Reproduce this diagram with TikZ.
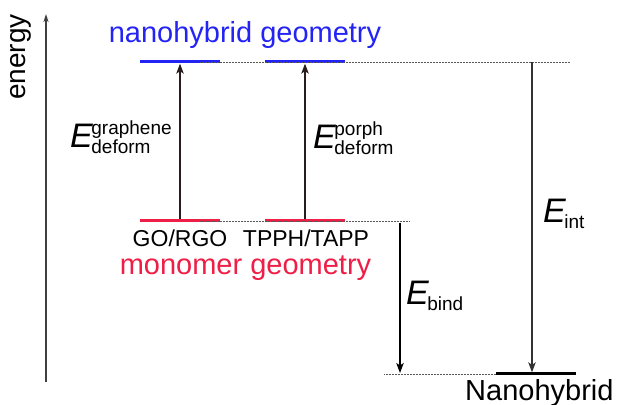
\documentclass[tikz,border=0pt]{standalone}
\usepackage{fontspec}
\setmainfont{Liberation Sans}
\usepackage{tikz}
\usetikzlibrary{positioning, arrows.meta, calc}
\definecolor{hybblue}{RGB}{35, 35, 245}
\definecolor{monored}{RGB}{238, 30, 70}
\definecolor{arrowdark}{RGB}{40, 28, 28}
\newcommand{\Eterm}[2]{{\fontsize{34}{34}\selectfont\itshape E}\kern-1.5pt%
  \fontsize{19}{19}\selectfont\makebox[0pt][l]{\raisebox{13pt}{#1}}\raisebox{-6pt}{#2}}

\begin{document}
\begin{tikzpicture}[
  x=1pt, y=1pt,
  lbl/.style={inner sep=0pt, anchor=base},
  title/.style={lbl, font=\fontsize{29}{29}\selectfont},
  molname/.style={lbl, font=\fontsize{23}{23}\selectfont},
  eterm/.style={inner sep=0pt, anchor=base west},
  bar/.style={inner sep=0pt, minimum width=80pt, minimum height=3pt},
  hybbar/.style={bar, fill=hybblue},
  monobar/.style={bar, fill=monored},
  levelline/.style={densely dotted, gray!70!black, line width=0.5pt},
  uparrow/.style={-{Stealth[length=10pt,width=7.5pt,inset=2.5pt]}, line width=1.1pt, arrowdark},
  axis/.style={-{Stealth[length=8pt,width=5pt,inset=2pt]}, line width=1.3pt, black!75}
]
\useasboundingbox (0,0) rectangle (618,404);

% energy axis
\coordinate (axis-bot) at (46,22);
\coordinate (axis-top) at (46,390);
\draw[axis] (axis-bot) -- (axis-top);
\node[inner sep=0pt, anchor=base west, rotate=90, font=\fontsize{28}{28}\selectfont] (energy) at (25,304) {energy};

% levels
\node[hybbar] (hyb-go) at (180,342) {};
\node[hybbar] (hyb-tp) at (305,342) {};
\node[monobar] (mono-go) at (180,183) {};
\node[monobar] (mono-tp) at (305,183) {};
\node[bar, fill=black] (nano) at (535.5,30) {};

\coordinate (top-start) at (200,342);
\coordinate (top-end) at (570,342);
\coordinate (mid-start) at (200,183);
\coordinate (mid-end) at (410,183);
\coordinate (bot-start) at (384,30);
\draw[levelline] (top-start) -- (top-end);
\draw[levelline] (mid-start) -- (mid-end);
\draw[levelline] (bot-start) -- (nano.west);

% labels
\node[title, text=hybblue] (hyb-title) at (245,361) {nanohybrid geometry};
\node[title, text=monored] (mono-title) at (245.5,129) {monomer geometry};
\node[molname] (go-name) at (180,157) {GO/RGO};
\node[molname] (tp-name) at (306,157) {TPPH/TAPP};
\node[inner sep=0pt, anchor=base west, font=\fontsize{29}{29}\selectfont] (nano-name) at (465,3) {Nanohybrid};

% energy terms
\draw[uparrow] (mono-go.north) -- (hyb-go.south);
\draw[uparrow] (mono-tp.north) -- (hyb-tp.south);
\coordinate (bind-top) at (400,181);
\coordinate (bind-bot) at (400,31);
\draw[uparrow, black] (bind-top) -- (bind-bot);
\coordinate (int-top) at (532,342);
\draw[uparrow, black!80] (int-top) -- (int-top |- nano.north);

\node[eterm] (e-graph) at (70,256) {\Eterm{graphene}{deform}};
\node[eterm] (e-porph) at (313,255) {\Eterm{porph}{deform}};
\node[eterm] (e-bind) at (406,99) {\Eterm{}{bind}};
\node[eterm] (e-int) at (543,181) {\Eterm{}{int}};
\end{tikzpicture}
\end{document}
